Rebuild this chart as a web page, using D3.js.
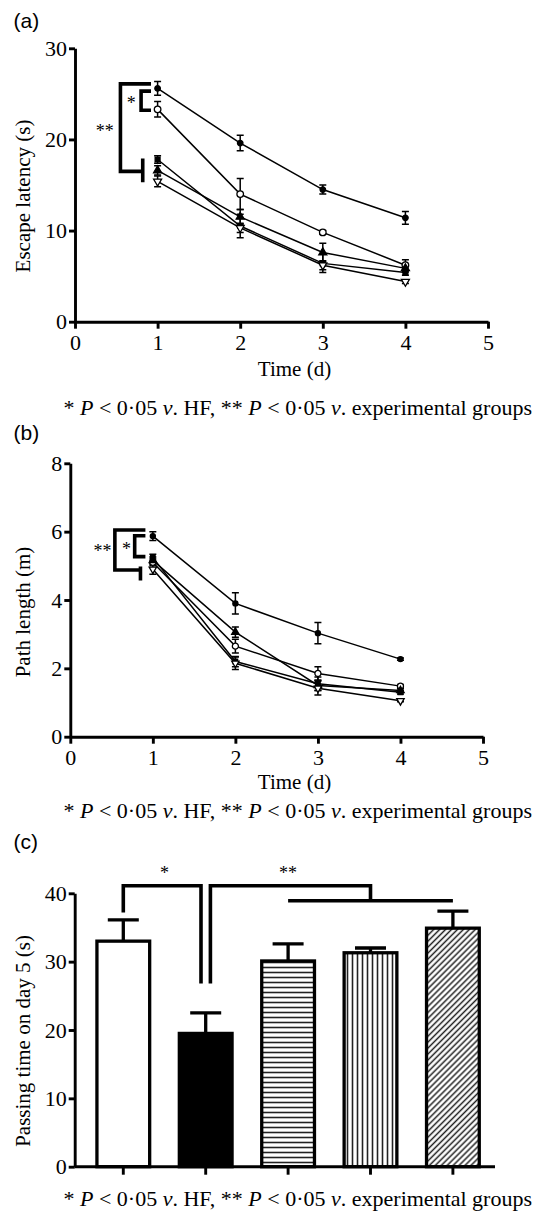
<!DOCTYPE html>
<html>
<head>
<meta charset="utf-8">
<script src="https://cdn.jsdelivr.net/npm/d3@7"></script>
<style>
  body { margin: 0; background: #fff; }
  svg { display: block; }
  .axis path, .axis line { stroke: #000; stroke-width: 2.9; }
  .axis text { font-family: "Liberation Serif", serif; font-size: 22px; fill: #000; }
  .title { font-family: "Liberation Serif", serif; font-size: 21px; fill: #000; }
  .note { font-family: "Liberation Serif", serif; font-size: 22px; fill: #000; white-space: pre; }
  .panel { font-family: "Liberation Sans", sans-serif; font-size: 21px; fill: #000; }
  .star { font-family: "Liberation Serif", serif; font-size: 18px; fill: #000; }
</style>
</head>
<body>
<script>
// ---- data ----
var days = [1, 2, 3, 4];
var xTicks = [0, 1, 2, 3, 4, 5];

// (a) escape latency (s)
var latTicks = [0, 10, 20, 30];
var latControl = [23.3, 14.0, 9.8, 6.2],  latControlErr = [0.85, 1.7, 0.2, 0.6];
var latHF      = [25.6, 19.6, 14.5, 11.4], latHFErr      = [0.75, 0.85, 0.5, 0.7];
var latExp1    = [17.8, 10.5, 6.4, 5.4],   latExp1Err    = [0.4, 1.3, 1.0, 0.3];
var latExp2    = [16.6, 11.5, 7.6, 5.85],  latExp2Err    = [0.5, 0.8, 1.0, 0.4];
var latExp3    = [15.4, 10.3, 6.2, 4.4],   latExp3Err    = [0.6, 0.5, 0.5, 0.2];

// (b) path length (m)
var pathTicks = [0, 2, 4, 6, 8];
var pathControl = [5.1, 2.65, 1.85, 1.48],  pathControlErr = [0.1, 0.2, 0.2, 0.05];
var pathHF      = [5.87, 3.9, 3.03, 2.27],  pathHFErr      = [0.13, 0.31, 0.31, 0.03];
var pathExp1    = [5.24, 2.2, 1.55, 1.3],   pathExp1Err    = [0.1, 0.15, 0.2, 0.05];
var pathExp2    = [5.16, 3.06, 1.5, 1.35],  pathExp2Err    = [0.1, 0.15, 0.15, 0.05];
var pathExp3    = [4.9, 2.15, 1.42, 1.05],  pathExp3Err    = [0.15, 0.18, 0.2, 0.03];

// (c) passing time on day 5 (s)
var groups = ["Control", "HF", "Exp1", "Exp2", "Exp3"];
var passTicks = [0, 10, 20, 30, 40];
var passTime = [33.0, 19.5, 30.1, 31.3, 34.9];
var passErr  = [3.1, 3.0, 2.5, 0.7, 2.5];

var shapes = ["openCircle", "circle", "square", "triangle", "invTriangle"];

var svg = d3.select("body").append("svg")
    .attr("width", 537)
    .attr("height", 1212);

svg.append("rect").attr("width", 537).attr("height", 1212).attr("fill", "#fff");

// hatch patterns for bars
var defs = svg.append("defs");
var ph = defs.append("pattern").attr("id", "hz").attr("patternUnits", "userSpaceOnUse")
    .attr("width", 8).attr("height", 5);
ph.append("rect").attr("width", 8).attr("height", 5).attr("fill", "#fff");
ph.append("line").attr("x1", 0).attr("x2", 8).attr("y1", 2.5).attr("y2", 2.5)
    .attr("stroke", "#222").attr("stroke-width", 1.6);
var pv = defs.append("pattern").attr("id", "vt").attr("patternUnits", "userSpaceOnUse")
    .attr("width", 5).attr("height", 8);
pv.append("rect").attr("width", 5).attr("height", 8).attr("fill", "#fff");
pv.append("line").attr("y1", 0).attr("y2", 8).attr("x1", 2.5).attr("x2", 2.5)
    .attr("stroke", "#222").attr("stroke-width", 1.6);
var pd = defs.append("pattern").attr("id", "dg").attr("patternUnits", "userSpaceOnUse")
    .attr("width", 4.2).attr("height", 8).attr("patternTransform", "rotate(45)");
pd.append("rect").attr("width", 4.2).attr("height", 8).attr("fill", "#fff");
pd.append("line").attr("y1", 0).attr("y2", 8).attr("x1", 2.1).attr("x2", 2.1)
    .attr("stroke", "#222").attr("stroke-width", 1.5);

function drawMarker(g, shape, cx, cy, k) {
    var type = (shape == "square") ? d3.symbolSquare
        : (shape == "triangle" || shape == "invTriangle") ? d3.symbolTriangle
        : d3.symbolCircle;
    var size = (shape == "openCircle") ? 34 : (shape == "circle") ? 24 : (shape == "square") ? 24 : 28;
    var open = (shape == "openCircle" || shape == "invTriangle");
    g.append("path")
        .attr("d", d3.symbol().type(type).size(size * k)())
        .attr("transform", "translate(" + cx + "," + cy + ")" + (shape == "invTriangle" ? " rotate(180)" : ""))
        .attr("fill", open ? "#fff" : "#000")
        .attr("stroke", "#000")
        .attr("stroke-width", 1.3);
}

function linePanel(o) {
    var x = d3.scaleLinear().domain([0, 5]).range(o.xRange);
    var y = d3.scaleLinear().domain([0, o.yMax]).range(o.yRange);
    var g = svg.append("g");

    g.append("g").attr("class", "axis")
        .attr("transform", "translate(0," + o.yRange[0] + ")")
        .call(d3.axisBottom(x).tickValues(xTicks).tickSize(7).tickSizeOuter(0).tickPadding(6).tickFormat(d3.format("d")));
    g.append("g").attr("class", "axis")
        .attr("transform", "translate(" + o.xRange[0] + ",0)")
        .call(d3.axisLeft(y).tickValues(o.yTicks).tickSize(6).tickSizeOuter(0).tickPadding(2));

    var line = d3.line()
        .x(function (d, i) { return x(days[i]); })
        .y(function (d) { return y(d); });

    o.series.forEach(function (s) {
        g.append("path").attr("d", line(s.mean))
            .attr("fill", "none").attr("stroke", "#000").attr("stroke-width", 1.5);
    });
    o.series.forEach(function (s) {
        s.mean.forEach(function (m, i) {
            var cx = x(days[i]), lo = y(m - s.err[i]), hi = y(m + s.err[i]);
            g.append("path")
                .attr("d", "M" + (cx - 3.5) + "," + lo + "H" + (cx + 3.5) + "M" + cx + "," + lo + "V" + hi +
                    "M" + (cx - 3.5) + "," + hi + "H" + (cx + 3.5))
                .attr("fill", "none").attr("stroke", "#000").attr("stroke-width", 1.5);
        });
    });
    o.series.forEach(function (s) {
        s.mean.forEach(function (m, i) {
            drawMarker(g, s.shape, x(days[i]), y(m), o.markerScale);
        });
    });

    // significance brackets
    var br = o.bracket;
    g.append("path")
        .attr("d", "M" + x(br.right) + "," + y(br.outerTop) + "H" + x(br.outerX) + "V" + y(br.outerBottom) +
            "H" + x(br.tickX) + "M" + x(br.tickX) + "," + y(br.tickTop) + "V" + y(br.tickBottom) +
            "M" + x(br.right) + "," + y(br.innerTop) + "H" + x(br.innerX) + "V" + y(br.innerBottom) + "H" + x(br.right))
        .attr("fill", "none").attr("stroke", "#000").attr("stroke-width", 3.6);
    g.append("text").attr("class", "star").attr("text-anchor", "middle")
        .attr("x", x(br.star2[0])).attr("y", y(br.star2[1])).attr("dy", "0.47em").text("**");
    g.append("text").attr("class", "star").attr("text-anchor", "middle")
        .attr("x", x(br.star1[0])).attr("y", y(br.star1[1])).attr("dy", "0.47em").text("*");

    // titles
    g.append("text").attr("class", "title").attr("text-anchor", "middle")
        .attr("x", 294.5).attr("y", o.xTitleY).text("Time (d)");
    g.append("text").attr("class", "title").attr("text-anchor", "middle")
        .attr("transform", "translate(30," + o.yTitleCenter + ") rotate(-90)")
        .text(o.yTitle);
}

function footnote(yb) {
    var t = svg.append("text").attr("class", "note").attr("x", 63.5).attr("y", yb);
    t.append("tspan").text("* ");
    t.append("tspan").style("font-style", "italic").text("P");
    t.append("tspan").text(" < 0·05 ");
    t.append("tspan").style("font-style", "italic").text("v");
    t.append("tspan").text(". HF, ** ");
    t.append("tspan").style("font-style", "italic").text("P");
    t.append("tspan").text(" < 0·05 ");
    t.append("tspan").style("font-style", "italic").text("v");
    t.append("tspan").text(". experimental groups");
}

// ---- (a) ----
svg.append("text").attr("class", "panel").attr("x", 13.5).attr("y", 28).text("(a)");
linePanel({
    xRange: [75, 488], yRange: [321.7, 48.3], yMax: 30, yTicks: latTicks,
    markerScale: 1,
    series: [
        { mean: latControl, err: latControlErr, shape: shapes[0] },
        { mean: latHF, err: latHFErr, shape: shapes[1] },
        { mean: latExp1, err: latExp1Err, shape: shapes[2] },
        { mean: latExp2, err: latExp2Err, shape: shapes[3] },
        { mean: latExp3, err: latExp3Err, shape: shapes[4] }
    ],
    bracket: {
        right: 0.92, outerX: 0.55, outerTop: 26.1, outerBottom: 16.5,
        tickX: 0.82, tickTop: 17.9, tickBottom: 15.3,
        innerX: 0.8, innerTop: 25.3, innerBottom: 23.2,
        star2: [0.36, 21.2], star1: [0.68, 24.3]
    },
    xTitleY: 376, yTitle: "Escape latency (s)", yTitleCenter: 196
});
footnote(415);

// ---- (b) ----
svg.append("text").attr("class", "panel").attr("x", 13.5).attr("y", 440).text("(b)");
linePanel({
    xRange: [70.3, 483], yRange: [736.7, 463.3], yMax: 8, yTicks: pathTicks,
    markerScale: 0.85,
    series: [
        { mean: pathControl, err: pathControlErr, shape: shapes[0] },
        { mean: pathHF, err: pathHFErr, shape: shapes[1] },
        { mean: pathExp1, err: pathExp1Err, shape: shapes[2] },
        { mean: pathExp2, err: pathExp2Err, shape: shapes[3] },
        { mean: pathExp3, err: pathExp3Err, shape: shapes[4] }
    ],
    bracket: {
        right: 0.91, outerX: 0.54, outerTop: 6.05, outerBottom: 4.88,
        tickX: 0.85, tickTop: 4.98, tickBottom: 4.57,
        innerX: 0.78, innerTop: 5.88, innerBottom: 5.27,
        star2: [0.39, 5.51], star1: [0.68, 5.56]
    },
    xTitleY: 789, yTitle: "Path length (m)", yTitleCenter: 612
});
footnote(818);

// ---- (c) ----
svg.append("text").attr("class", "panel").attr("x", 13.5).attr("y", 849).text("(c)");
var xc = d3.scaleBand().domain(groups).range([82.1, 494.1]).paddingInner(0.36).paddingOuter(0.18);
var yc = d3.scaleLinear().domain([0, 40]).range([1166.7, 893.3]);
var gc = svg.append("g");
var fills = ["#fff", "#000", "url(#hz)", "url(#vt)", "url(#dg)"];

gc.selectAll(".errc").data(groups).enter().append("path")
    .attr("d", function (d, i) {
        var cx = xc(d) + xc.bandwidth() / 2, top = yc(passTime[i] + passErr[i]);
        return "M" + cx + "," + yc(passTime[i]) + "V" + top + "M" + (cx - 15.5) + "," + top + "H" + (cx + 15.5);
    })
    .attr("fill", "none").attr("stroke", "#000").attr("stroke-width", 3.3);

gc.selectAll(".bar").data(groups).enter().append("rect")
    .attr("x", function (d) { return xc(d); })
    .attr("width", xc.bandwidth())
    .attr("y", function (d, i) { return yc(passTime[i]); })
    .attr("height", function (d, i) { return yc(0) - yc(passTime[i]); })
    .attr("fill", function (d, i) { return fills[i]; })
    .attr("stroke", "#000").attr("stroke-width", 3.3);

gc.append("g").attr("class", "axis")
    .attr("transform", "translate(0," + yc(0) + ")")
    .call(d3.axisBottom(xc).tickSize(8).tickSizeOuter(0).tickFormat(""))
    .select(".domain").remove();
gc.append("line").attr("class", "axisline")
    .attr("x1", 74.7).attr("x2", 495).attr("y1", yc(0)).attr("y2", yc(0))
    .attr("stroke", "#000").attr("stroke-width", 2.9);
gc.append("g").attr("class", "axis")
    .attr("transform", "translate(74.7,0)")
    .call(d3.axisLeft(yc).tickValues(passTicks).tickSize(6).tickSizeOuter(0).tickPadding(2));

function cxOf(i) { return xc(groups[i]) + xc.bandwidth() / 2; }
gc.append("path")
    .attr("d", "M" + cxOf(0) + "," + yc(37.2) + "V" + yc(41.1) + "H" + (cxOf(1) - 4.7) + "V" + yc(26.8) +
        "M" + (cxOf(1) + 4.7) + "," + yc(26.8) + "V" + yc(41.1) + "H" + cxOf(3) + "V" + yc(38.9) +
        "M" + cxOf(2) + "," + yc(38.9) + "H" + cxOf(4))
    .attr("fill", "none").attr("stroke", "#000").attr("stroke-width", 3.6);
gc.append("text").attr("class", "star").attr("text-anchor", "middle")
    .attr("x", (cxOf(0) + cxOf(1)) / 2).attr("y", yc(43.4)).attr("dy", "0.47em").text("*");
gc.append("text").attr("class", "star").attr("text-anchor", "middle")
    .attr("x", cxOf(2)).attr("y", yc(43.4)).attr("dy", "0.47em").text("**");

gc.append("text").attr("class", "title").attr("text-anchor", "middle")
    .attr("transform", "translate(30,1041) rotate(-90)")
    .text("Passing time on day 5 (s)");
footnote(1206);
</script>
</body>
</html>
